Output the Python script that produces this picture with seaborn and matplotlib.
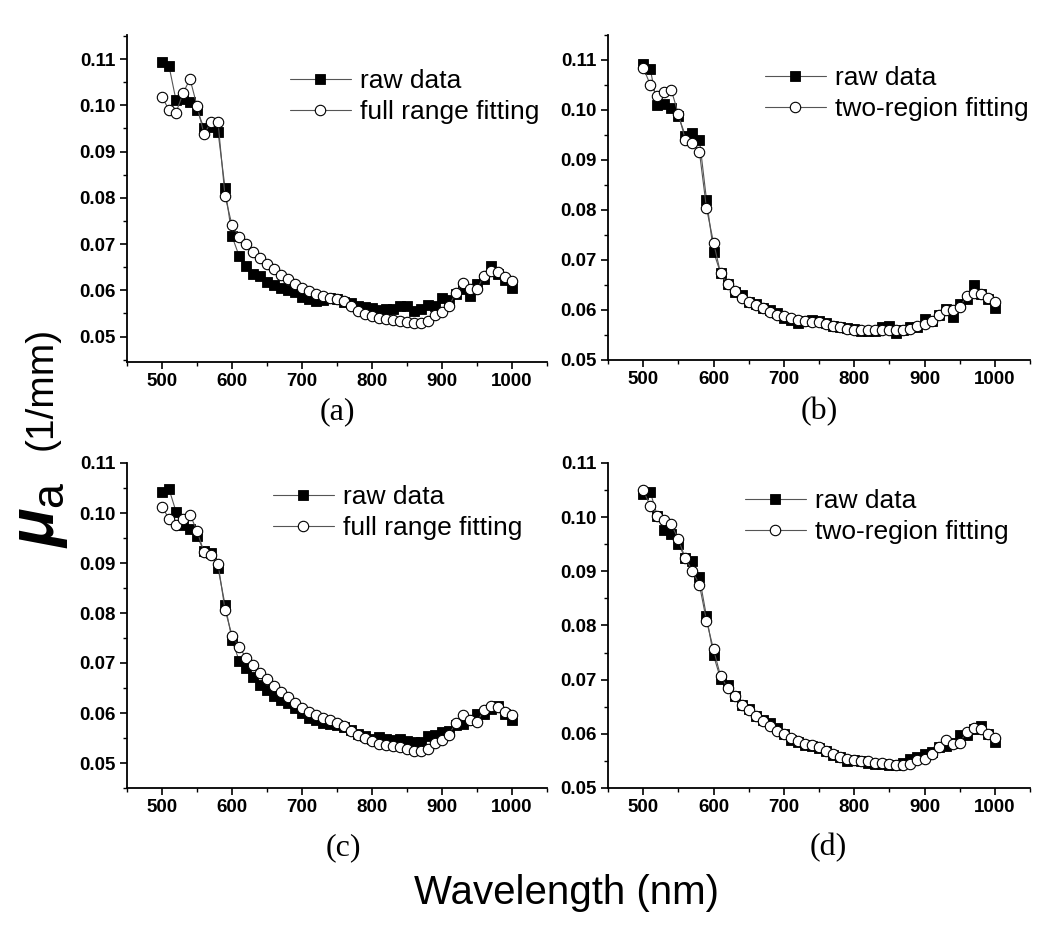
import numpy as np
import pandas as pd
import matplotlib
matplotlib.use("Agg")
import matplotlib.pyplot as plt
from matplotlib.ticker import MultipleLocator, FormatStrFormatter
import seaborn as sns

# ---------------- data ----------------
wavelength = list(range(500, 1001, 10))

a_raw = [0.1093, 0.1085, 0.1011, 0.1013, 0.1008, 0.0990, 0.0951, 0.0953, 0.0943, 0.0822,
         0.0717, 0.0675, 0.0653, 0.0636, 0.0630, 0.0617, 0.0612, 0.0605, 0.0600, 0.0596,
         0.0585, 0.0581, 0.0577, 0.0579, 0.0583, 0.0581, 0.0574, 0.0572, 0.0565, 0.0564,
         0.0562, 0.0558, 0.0559, 0.0559, 0.0565, 0.0566, 0.0555, 0.0560, 0.0569, 0.0567,
         0.0583, 0.0579, 0.0592, 0.0603, 0.0587, 0.0613, 0.0625, 0.0652, 0.0636, 0.0623, 0.0605]
a_fit = [0.1018, 0.0990, 0.0984, 0.1026, 0.1057, 0.0999, 0.0938, 0.0963, 0.0964, 0.0804,
         0.0741, 0.0716, 0.0700, 0.0683, 0.0670, 0.0657, 0.0645, 0.0634, 0.0624, 0.0614,
         0.0606, 0.0598, 0.0591, 0.0587, 0.0583, 0.0581, 0.0576, 0.0565, 0.0555, 0.0548,
         0.0544, 0.0540, 0.0538, 0.0536, 0.0533, 0.0531, 0.0529, 0.0529, 0.0533, 0.0547,
         0.0554, 0.0567, 0.0594, 0.0616, 0.0603, 0.0602, 0.0632, 0.0642, 0.0639, 0.0628, 0.0620]

b_raw = [0.1092, 0.1083, 0.1010, 0.1013, 0.1005, 0.0988, 0.0949, 0.0955, 0.0941, 0.0821,
         0.0717, 0.0674, 0.0652, 0.0636, 0.0630, 0.0617, 0.0612, 0.0604, 0.0600, 0.0595,
         0.0585, 0.0580, 0.0575, 0.0578, 0.0581, 0.0579, 0.0574, 0.0569, 0.0566, 0.0565,
         0.0563, 0.0558, 0.0559, 0.0559, 0.0566, 0.0568, 0.0555, 0.0560, 0.0567, 0.0567,
         0.0582, 0.0578, 0.0590, 0.0602, 0.0587, 0.0613, 0.0623, 0.0650, 0.0633, 0.0622, 0.0605]
b_fit = [0.1085, 0.1051, 0.1028, 0.1036, 0.1040, 0.0992, 0.0941, 0.0934, 0.0916, 0.0804,
         0.0735, 0.0674, 0.0652, 0.0638, 0.0625, 0.0617, 0.0610, 0.0604, 0.0597, 0.0590,
         0.0588, 0.0584, 0.0580, 0.0578, 0.0577, 0.0576, 0.0572, 0.0568, 0.0566, 0.0563,
         0.0561, 0.0560, 0.0560, 0.0560, 0.0561, 0.0561, 0.0561, 0.0561, 0.0563, 0.0568,
         0.0572, 0.0578, 0.0590, 0.0600, 0.0600, 0.0606, 0.0628, 0.0635, 0.0633, 0.0625, 0.0616]

c_raw = [0.1043, 0.1048, 0.1003, 0.0977, 0.0969, 0.0954, 0.0924, 0.0920, 0.0890, 0.0817,
         0.0747, 0.0705, 0.0691, 0.0673, 0.0657, 0.0646, 0.0634, 0.0626, 0.0620, 0.0611,
         0.0601, 0.0590, 0.0587, 0.0580, 0.0579, 0.0577, 0.0573, 0.0567, 0.0559, 0.0555,
         0.0549, 0.0553, 0.0549, 0.0547, 0.0549, 0.0544, 0.0542, 0.0542, 0.0554, 0.0557,
         0.0563, 0.0565, 0.0577, 0.0579, 0.0586, 0.0598, 0.0599, 0.0609, 0.0614, 0.0598, 0.0586]
c_fit = [0.1013, 0.0988, 0.0976, 0.0988, 0.0997, 0.0964, 0.0922, 0.0916, 0.0899, 0.0807,
         0.0755, 0.0732, 0.0711, 0.0696, 0.0681, 0.0668, 0.0654, 0.0643, 0.0632, 0.0621,
         0.0611, 0.0602, 0.0596, 0.0590, 0.0586, 0.0581, 0.0575, 0.0565, 0.0557, 0.0550,
         0.0544, 0.0539, 0.0536, 0.0534, 0.0532, 0.0528, 0.0525, 0.0525, 0.0528, 0.0540,
         0.0546, 0.0557, 0.0581, 0.0597, 0.0586, 0.0582, 0.0606, 0.0614, 0.0612, 0.0603, 0.0596]

d_raw = [0.1042, 0.1047, 0.1003, 0.0976, 0.0968, 0.0951, 0.0924, 0.0919, 0.0889, 0.0817,
         0.0745, 0.0702, 0.0691, 0.0670, 0.0654, 0.0645, 0.0633, 0.0625, 0.0620, 0.0611,
         0.0600, 0.0589, 0.0584, 0.0580, 0.0578, 0.0574, 0.0568, 0.0561, 0.0557, 0.0549,
         0.0552, 0.0549, 0.0546, 0.0545, 0.0544, 0.0543, 0.0543, 0.0547, 0.0553, 0.0557,
         0.0563, 0.0566, 0.0575, 0.0578, 0.0583, 0.0597, 0.0598, 0.0609, 0.0614, 0.0600, 0.0584]
d_fit = [0.1050, 0.1021, 0.1003, 0.0994, 0.0987, 0.0959, 0.0924, 0.0901, 0.0875, 0.0809,
         0.0756, 0.0707, 0.0685, 0.0670, 0.0654, 0.0644, 0.0633, 0.0623, 0.0614, 0.0606,
         0.0600, 0.0592, 0.0587, 0.0582, 0.0579, 0.0575, 0.0569, 0.0563, 0.0558, 0.0553,
         0.0551, 0.0550, 0.0549, 0.0547, 0.0546, 0.0544, 0.0543, 0.0543, 0.0545, 0.0551,
         0.0553, 0.0563, 0.0575, 0.0588, 0.0582, 0.0583, 0.0604, 0.0610, 0.0608, 0.0600, 0.0592]

raw_label = "raw data"
fit_labels = ["full range fitting", "two-region fitting", "full range fitting", "two-region fitting"]
panel_labels = ["(a)", "(b)", "(c)", "(d)"]
x_label = "Wavelength (nm)"
y_label_sym = r"$\mu_\mathregular{a}$"
y_label_unit = "(1/mm)"

# ---------------- style ----------------
sns.set_theme(style="ticks")
plt.rcParams["font.family"] = ["Liberation Sans", "DejaVu Sans"]
plt.rcParams["mathtext.fontset"] = "custom"
plt.rcParams["mathtext.rm"] = "Liberation Sans"
plt.rcParams["mathtext.it"] = "Liberation Sans:italic:bold"
plt.rcParams["text.color"] = "black"
plt.rcParams["axes.labelcolor"] = "black"
plt.rcParams["xtick.color"] = "black"
plt.rcParams["ytick.color"] = "black"
plt.rcParams["axes.edgecolor"] = "black"

W, H = 1050, 927
fig = plt.figure(figsize=(W / 100, H / 100), dpi=100)

def frac(left, top, right, bottom):
    return [left / W, 1 - bottom / H, (right - left) / W, (bottom - top) / H]

panels = [
    dict(raw=a_raw, fit=a_fit, rect=frac(127, 35, 547, 362), ylim=(0.0445, 0.1152),
         leg=(290, 68), lab=(337, 412)),
    dict(raw=b_raw, fit=b_fit, rect=frac(608, 35, 1030, 360), ylim=(0.05, 0.115),
         leg=(765, 65), lab=(819, 412)),
    dict(raw=c_raw, fit=c_fit, rect=frac(127, 463, 547, 788), ylim=(0.045, 0.11),
         leg=(273, 484), lab=(343, 848)),
    dict(raw=d_raw, fit=d_fit, rect=frac(608, 463, 1030, 788), ylim=(0.05, 0.11),
         leg=(745, 488), lab=(828, 848)),
]

line_color = "#555555"
for i, p in enumerate(panels):
    ax = fig.add_axes(p["rect"])
    df = pd.DataFrame({"wl": wavelength, "raw": p["raw"], "fit": p["fit"]})
    sns.lineplot(data=df, x="wl", y="raw", ax=ax, color=line_color, linewidth=0.8,
                 marker="s", markersize=6.8, markerfacecolor="black",
                 markeredgecolor="black", markeredgewidth=0.6, label=raw_label)
    sns.lineplot(data=df, x="wl", y="fit", ax=ax, color=line_color, linewidth=0.8,
                 marker="o", markersize=7.5, markerfacecolor="white",
                 markeredgecolor="black", markeredgewidth=0.8, label=fit_labels[i])
    ax.set_xlim(450, 1050)
    ax.set_ylim(*p["ylim"])
    ax.set_xlabel("")
    ax.set_ylabel("")
    ax.xaxis.set_major_locator(MultipleLocator(100))
    ax.xaxis.set_minor_locator(MultipleLocator(50))
    ax.yaxis.set_major_locator(MultipleLocator(0.01))
    ax.yaxis.set_minor_locator(MultipleLocator(0.005))
    ax.yaxis.set_major_formatter(FormatStrFormatter("%.2f"))
    ax.set_xticks(range(500, 1001, 100))
    ax.set_facecolor("white")
    for s in ["top", "right"]:
        ax.spines[s].set_visible(False)
    for s in ["left", "bottom"]:
        ax.spines[s].set_linewidth(1.3)
        ax.spines[s].set_color("black")
    ax.tick_params(which="major", direction="out", length=5, width=1.2, color="black",
                   labelcolor="black", labelsize=13.5, pad=3)
    ax.tick_params(which="minor", direction="out", length=3, width=1.0, color="black")
    for t in ax.get_xticklabels() + ax.get_yticklabels():
        t.set_fontweight("bold")
    lx, ly = p["leg"]
    leg = ax.legend(loc="upper left", bbox_to_anchor=(lx / W, 1 - (ly + 1) / H),
                    bbox_transform=fig.transFigure, frameon=False, fontsize=19,
                    handlelength=2.3, handletextpad=0.35, labelspacing=0.28,
                    borderpad=0, borderaxespad=0)
    for t in leg.get_texts():
        t.set_color("black")
    fig.text(p["lab"][0] / W, 1 - p["lab"][1] / H, panel_labels[i],
             family=["Liberation Serif", "DejaVu Serif"], fontsize=23,
             ha="center", va="center", color="black")

fig.text(567 / W, 1 - 893 / H, x_label, fontsize=29, ha="center", va="center",
         color="black")
fig.text(40 / W, 1 - 515 / H, y_label_sym, fontsize=46, rotation=90,
         ha="center", va="center", color="black")
fig.text(42 / W, 1 - 388 / H, y_label_unit, fontsize=28, rotation=90,
         ha="center", va="center", color="black")

fig.savefig("out.png", dpi=100, facecolor="white")
